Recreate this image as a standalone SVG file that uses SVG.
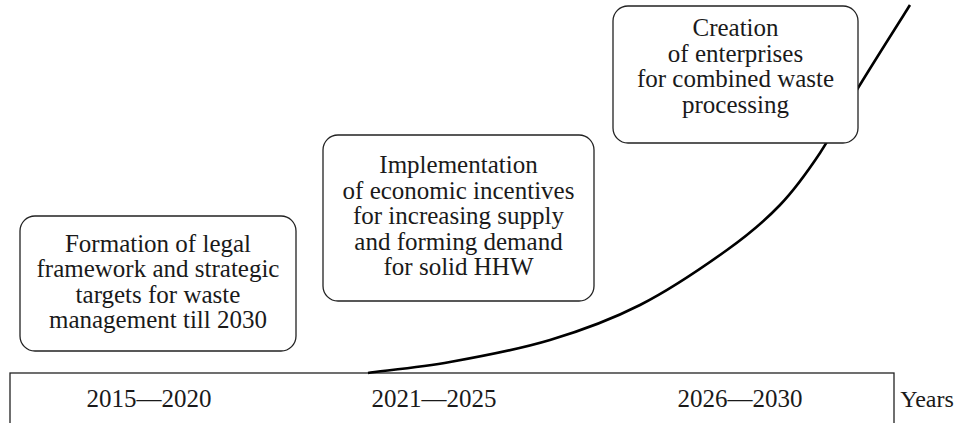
<svg xmlns="http://www.w3.org/2000/svg" width="958" height="423" viewBox="0 0 958 423">
<style>
.box{fill:#fff;stroke:#222;stroke-width:1.3}
.t{font-family:"Liberation Serif","Times New Roman",serif;font-size:25px;fill:#1a1a1a;text-anchor:middle}
.a{font-family:"Liberation Serif","Times New Roman",serif;font-size:25px;fill:#1a1a1a;text-anchor:middle}
.curve{fill:none;stroke:#000;stroke-width:2.6}
.axis{fill:#fff;stroke:#222;stroke-width:1.3}
</style>
<rect width="958" height="423" fill="#fff"/>
<g id="axis">
<rect class="axis" x="10" y="373" width="884" height="70"/>
<text class="a" x="149" y="407">2015—2020</text>
<text class="a" x="434" y="407">2021—2025</text>
<text class="a" x="740" y="407">2026—2030</text>
<text class="a" x="927" y="407" style="font-size:24px">Years</text>
</g>
<g id="connectors">
<path class="curve" d="M368,373 C379.2,371.2 419.2,367.5 450,362 C480.8,356.5 518.3,349.5 550,340 C581.7,330.5 610.5,320 640,305 C669.5,290 703.7,266.7 727,250 C750.3,233.3 764.5,221.2 780,205 C795.5,188.8 807,172.5 820,153 C833,133.5 843,112.7 858,88 C873,63.3 901.3,18.8 910,5"/>
</g>
<g id="node1">
<rect class="box" x="20" y="216" width="276" height="135" rx="15"/>
<text class="t" x="158" y="252">Formation of legal</text>
<text class="t" x="158" y="277">framework and strategic</text>
<text class="t" x="158" y="303">targets for waste</text>
<text class="t" x="158" y="328">management till 2030</text>
</g>
<g id="node2">
<rect class="box" x="323" y="135" width="271" height="166" rx="15"/>
<text class="t" x="458.5" y="173">Implementation</text>
<text class="t" x="458.5" y="199">of economic incentives</text>
<text class="t" x="458.5" y="224">for increasing supply</text>
<text class="t" x="458.5" y="250">and forming demand</text>
<text class="t" x="458.5" y="275">for solid HHW</text>
</g>
<g id="node3">
<rect class="box" x="613" y="6" width="245" height="137" rx="15"/>
<text class="t" x="735.5" y="36">Creation</text>
<text class="t" x="735.5" y="62">of enterprises</text>
<text class="t" x="735.5" y="87">for combined waste</text>
<text class="t" x="735.5" y="113">processing</text>
</g>
</svg>
